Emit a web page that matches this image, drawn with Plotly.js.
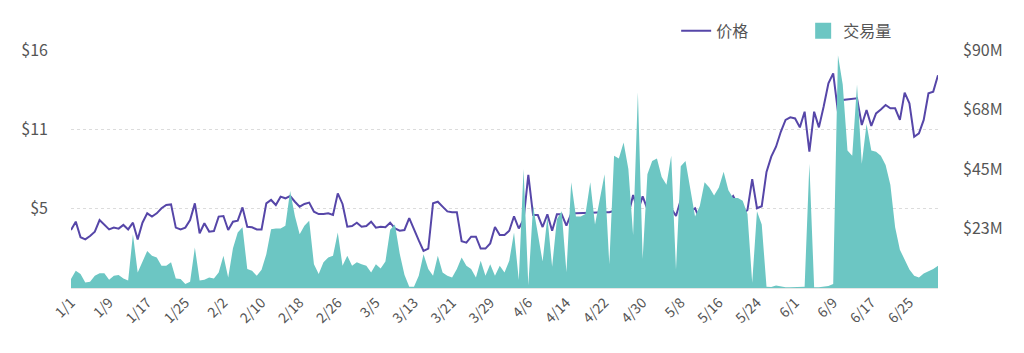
<!DOCTYPE html>
<html>
<head>
<meta charset="utf-8">
<script src="https://cdn.plot.ly/plotly-3.0.1.min.js"></script>
<style>
  html, body { margin: 0; padding: 0; background: #ffffff; }
  #chart { width: 1024px; height: 353px; }
</style>
</head>
<body>
<div id="chart"></div>
<script>
// ---- data ----
const startDate = '2024-01-01';   // one point per day, 1/1 .. 7/1
const seriesNames = ['价格', '交易量'];

// price in USD
const price = [
  3.90, 4.46, 3.41, 3.27, 3.50, 3.79, 4.57, 4.24, 3.94, 4.06,
  3.99, 4.24, 3.94, 4.39, 3.27, 4.39, 5.02, 4.80, 5.02, 5.36,
  5.58, 5.62, 4.06, 3.94, 4.06, 4.57, 5.69, 3.68, 4.35, 3.79,
  3.83, 4.80, 4.84, 3.90, 4.46, 4.53, 5.42, 4.12, 4.08, 3.94,
  3.94, 5.69, 5.92, 5.58, 6.14, 6.03, 6.18, 5.80, 5.47, 5.65,
  5.74, 5.13, 4.97, 4.97, 5.02, 4.91, 6.36, 5.65, 4.12, 4.17,
  4.39, 4.12, 4.17, 4.46, 4.06, 4.12, 4.08, 4.39, 4.01, 3.85,
  3.90, 4.70, 3.90, 3.20, 2.50, 2.65, 5.70, 5.80, 5.47, 5.15,
  5.10, 5.10, 3.15, 3.05, 3.45, 3.45, 2.65, 2.65, 3.00, 4.10,
  3.56, 3.56, 3.85, 4.82, 4.00, 4.60, 7.60, 4.90, 4.90, 4.10,
  4.95, 3.85, 4.95, 4.95, 4.20, 5.00, 5.02, 5.04, 5.06, 5.06,
  5.08, 5.08, 5.10, 5.10, 5.20, 5.28, 5.05, 4.93, 6.25, 5.20,
  6.16, 5.30, 5.24, 5.45, 5.60, 5.45, 5.36, 4.84, 5.92, 4.46,
  5.13, 5.36, 4.62, 5.02, 4.68, 4.91, 5.69, 5.47, 5.80, 6.18,
  5.58, 4.97, 5.24, 7.31, 5.36, 5.50, 7.80, 8.83, 9.50, 10.50,
  11.30, 11.47, 11.40, 10.80, 11.85, 9.17, 11.85, 10.80, 12.20, 13.76,
  14.43, 11.85, 12.64, 12.68, 12.68, 12.75, 10.96, 11.97, 10.90, 11.74,
  12.00, 12.30, 12.08, 12.08, 11.30, 13.13, 12.41, 10.17, 10.40, 11.30,
  13.09, 13.20, 14.30
];

// trading volume in millions of USD
const volumeM = [
  3.4, 6.5, 5.3, 2.1, 2.4, 4.6, 5.6, 5.6, 3.1, 4.6,
  4.9, 3.6, 2.8, 20.3, 5.9, 9.7, 14.0, 12.2, 11.5, 8.4,
  8.4, 9.7, 3.6, 3.4, 1.5, 2.4, 15.3, 2.8, 3.1, 4.0,
  3.6, 5.9, 12.2, 4.0, 15.0, 21.0, 23.0, 7.2, 6.5, 4.6,
  6.9, 12.8, 22.2, 22.5, 22.5, 23.5, 36.7, 27.2, 20.3, 23.5,
  25.4, 9.0, 5.3, 9.7, 11.5, 12.2, 21.0, 8.4, 12.2, 8.4,
  9.7, 9.0, 8.4, 5.9, 9.0, 7.4, 10.0, 22.0, 24.0, 13.0,
  5.0, 0.5, 0.5, 4.6, 12.8, 7.2, 4.6, 12.2, 5.9, 4.6,
  4.0, 7.2, 11.5, 8.4, 7.2, 4.0, 10.3, 4.6, 9.0, 4.6,
  8.4, 5.9, 10.3, 21.0, 3.0, 45.0, 1.0, 31.0, 20.0, 10.0,
  27.0, 8.0, 26.0, 29.0, 6.0, 40.0, 27.0, 27.0, 28.0, 40.0,
  24.0, 33.0, 43.0, 9.0, 50.0, 49.0, 55.0, 45.0, 20.0, 74.0,
  11.0, 43.0, 48.0, 49.0, 42.0, 39.0, 50.0, 7.0, 46.0, 48.0,
  37.0, 27.0, 31.0, 40.0, 38.0, 35.0, 38.0, 44.0, 37.0, 34.0,
  34.0, 33.0, 28.0, 2.0, 29.0, 24.0, 0.5, 0.4, 0.9, 0.5,
  0.3, 0.3, 0.3, 0.3, 0.5, 47.0, 0.3, 0.3, 0.5, 0.8,
  1.5, 88.0, 77.0, 52.0, 50.0, 77.0, 47.0, 62.0, 52.0, 51.5,
  50.0, 46.5, 39.0, 23.0, 14.5, 11.0, 7.0, 4.6, 4.0, 5.5,
  6.3, 7.2, 8.4
];

// axis ticks
const priceTickVals = [16 / 3, 32 / 3, 16];
const priceTickText = ['$5', '$11', '$16'];
const volTickVals = [22.5, 45, 67.5, 90];
const volTickText = ['$23M', '$45M', '$68M', '$90M'];

// ---- build dates ----
const dates = [];
const d0 = new Date(startDate + 'T00:00:00Z');
for (let i = 0; i < price.length; i++) {
  const d = new Date(d0.getTime() + i * 86400000);
  dates.push(d.toISOString().slice(0, 10));
}

const FONT = '"Noto Sans CJK SC", "Noto Sans", sans-serif';
const TEXT = '#555555';
const TEAL = '#6cc6c3';
const PURPLE = '#5646a8';

const traces = [
  {
    x: dates, y: volumeM, name: seriesNames[1], type: 'scatter', mode: 'lines',
    yaxis: 'y2', fill: 'tozeroy', fillcolor: TEAL,
    line: { width: 0, color: TEAL }, showlegend: false
  },
  {
    x: dates, y: price, name: seriesNames[0], type: 'scatter', mode: 'lines',
    line: { width: 2, color: PURPLE }, legendrank: 1
  },
  {
    // legend swatch for the volume area (square symbol, no data)
    x: [null], y: [null], name: seriesNames[1], type: 'scatter', mode: 'markers',
    yaxis: 'y2', marker: { symbol: 'square', size: 18, color: TEAL },
    legendrank: 2
  }
];

const layout = {
  width: 1024, height: 353,
  margin: { l: 71, r: 86, t: 50, b: 65, autoexpand: false },
  paper_bgcolor: '#ffffff', plot_bgcolor: '#ffffff',
  font: { family: FONT, color: TEXT, size: 15 },
  showlegend: true,
  legend: {
    orientation: 'h', x: 0.698, xanchor: 'left', y: 1.08, yanchor: 'middle',
    font: { size: 16, color: TEXT, family: FONT },
    entrywidth: 82, entrywidthmode: 'pixels', bgcolor: 'rgba(0,0,0,0)'
  },
  xaxis: {
    type: 'date',
    range: [dates[0], dates[dates.length - 1]],
    tick0: startDate, dtick: 8 * 86400000,
    tickformat: '%-m/%-d', tickangle: -45,
    tickfont: { size: 14, color: TEXT },
    showgrid: false, zeroline: false,
    showline: true, linecolor: '#e6e6e6', linewidth: 1,
    ticks: '', automargin: false
  },
  yaxis: {
    range: [0, 16],
    tickmode: 'array', tickvals: priceTickVals, ticktext: priceTickText,
    tickfont: { size: 16, color: TEXT },
    showgrid: true, gridcolor: '#dcdcdc', griddash: 'dot', gridwidth: 1,
    zeroline: false, showline: false, ticks: '',
    ticklabelstandoff: 22, automargin: false
  },
  yaxis2: {
    overlaying: 'y', side: 'right',
    range: [0, 90],
    tickmode: 'array', tickvals: volTickVals, ticktext: volTickText,
    tickfont: { size: 16, color: TEXT },
    showgrid: false, zeroline: false, showline: false, ticks: '',
    ticklabelstandoff: 24, automargin: false
  }
};

Plotly.newPlot('chart', traces, layout, { displayModeBar: false, staticPlot: true });
</script>
</body>
</html>
